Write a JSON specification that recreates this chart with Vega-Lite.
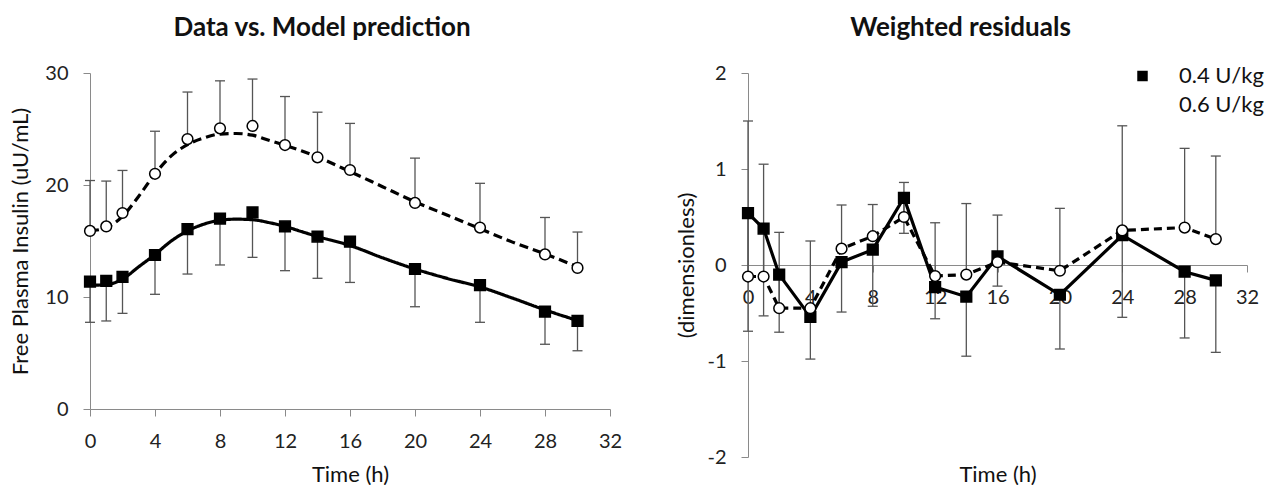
{
  "$schema": "https://vega.github.io/schema/vega-lite/v6.json",
  "background": "white",
  "padding": {"left": 9, "top": 15, "right": 2, "bottom": 0},
  "config": {
    "font": "Lato",
    "view": {"stroke": null},
    "axis": {
      "domainColor": "#8a8a8a",
      "tickColor": "#8a8a8a",
      "tickSize": 7,
      "grid": false,
      "labelFontSize": 20,
      "labelColor": "#222222",
      "labelFlush": false,
      "labelOverlap": false,
      "titleFontSize": 22,
      "titleFontWeight": "normal",
      "titleColor": "#111111",
      "labelPadding": 15
    },
    "title": {"fontSize": 26, "fontWeight": "bold", "color": "#111111", "frame": "group", "anchor": "middle", "baseline": "alphabetic"}
  },
  "datasets": {
    "obs": [
      {"t": 0, "dose": "0.4 U/kg", "y": 11.37, "e": 7.74},
      {"t": 1, "dose": "0.4 U/kg", "y": 11.43, "e": 7.86},
      {"t": 2, "dose": "0.4 U/kg", "y": 11.8, "e": 8.54},
      {"t": 4, "dose": "0.4 U/kg", "y": 13.75, "e": 10.24},
      {"t": 6, "dose": "0.4 U/kg", "y": 16.07, "e": 12.05},
      {"t": 8, "dose": "0.4 U/kg", "y": 17.0, "e": 12.86},
      {"t": 10, "dose": "0.4 U/kg", "y": 17.56, "e": 13.54},
      {"t": 12, "dose": "0.4 U/kg", "y": 16.3, "e": 12.35},
      {"t": 14, "dose": "0.4 U/kg", "y": 15.4, "e": 11.67},
      {"t": 16, "dose": "0.4 U/kg", "y": 14.94, "e": 11.3},
      {"t": 20, "dose": "0.4 U/kg", "y": 12.5, "e": 9.13},
      {"t": 24, "dose": "0.4 U/kg", "y": 11.07, "e": 7.74},
      {"t": 28, "dose": "0.4 U/kg", "y": 8.69, "e": 5.78},
      {"t": 30, "dose": "0.4 U/kg", "y": 7.86, "e": 5.2},
      {"t": 0, "dose": "0.6 U/kg", "y": 15.9, "e": 20.4},
      {"t": 1, "dose": "0.6 U/kg", "y": 16.3, "e": 20.35},
      {"t": 2, "dose": "0.6 U/kg", "y": 17.5, "e": 21.3},
      {"t": 4, "dose": "0.6 U/kg", "y": 21.0, "e": 24.8},
      {"t": 6, "dose": "0.6 U/kg", "y": 24.1, "e": 28.3},
      {"t": 8, "dose": "0.6 U/kg", "y": 25.06, "e": 29.3},
      {"t": 10, "dose": "0.6 U/kg", "y": 25.27, "e": 29.46},
      {"t": 12, "dose": "0.6 U/kg", "y": 23.57, "e": 27.9},
      {"t": 14, "dose": "0.6 U/kg", "y": 22.47, "e": 26.5},
      {"t": 16, "dose": "0.6 U/kg", "y": 21.34, "e": 25.5},
      {"t": 20, "dose": "0.6 U/kg", "y": 18.4, "e": 22.4},
      {"t": 24, "dose": "0.6 U/kg", "y": 16.2, "e": 20.15},
      {"t": 28, "dose": "0.6 U/kg", "y": 13.8, "e": 17.1},
      {"t": 30, "dose": "0.6 U/kg", "y": 12.6, "e": 15.8}
    ],
    "model": [
      {"t": 0, "dose": "0.4 U/kg", "p": 11.05},
      {"t": 1, "dose": "0.4 U/kg", "p": 11.1},
      {"t": 2, "dose": "0.4 U/kg", "p": 11.6},
      {"t": 3, "dose": "0.4 U/kg", "p": 12.7},
      {"t": 4, "dose": "0.4 U/kg", "p": 13.8},
      {"t": 5, "dose": "0.4 U/kg", "p": 15.0},
      {"t": 6, "dose": "0.4 U/kg", "p": 15.9},
      {"t": 7, "dose": "0.4 U/kg", "p": 16.5},
      {"t": 8, "dose": "0.4 U/kg", "p": 16.85},
      {"t": 9, "dose": "0.4 U/kg", "p": 16.95},
      {"t": 10, "dose": "0.4 U/kg", "p": 16.9},
      {"t": 11, "dose": "0.4 U/kg", "p": 16.65},
      {"t": 12, "dose": "0.4 U/kg", "p": 16.3},
      {"t": 13, "dose": "0.4 U/kg", "p": 15.85},
      {"t": 14, "dose": "0.4 U/kg", "p": 15.4},
      {"t": 16, "dose": "0.4 U/kg", "p": 14.6},
      {"t": 18, "dose": "0.4 U/kg", "p": 13.5},
      {"t": 20, "dose": "0.4 U/kg", "p": 12.5},
      {"t": 22, "dose": "0.4 U/kg", "p": 11.65},
      {"t": 24, "dose": "0.4 U/kg", "p": 10.9},
      {"t": 26, "dose": "0.4 U/kg", "p": 9.9},
      {"t": 28, "dose": "0.4 U/kg", "p": 8.85},
      {"t": 30, "dose": "0.4 U/kg", "p": 7.9},
      {"t": 0, "dose": "0.6 U/kg", "p": 15.9},
      {"t": 1, "dose": "0.6 U/kg", "p": 16.2},
      {"t": 2, "dose": "0.6 U/kg", "p": 17.2},
      {"t": 3, "dose": "0.6 U/kg", "p": 19.0},
      {"t": 4, "dose": "0.6 U/kg", "p": 21.0},
      {"t": 5, "dose": "0.6 U/kg", "p": 22.6},
      {"t": 6, "dose": "0.6 U/kg", "p": 23.6},
      {"t": 7, "dose": "0.6 U/kg", "p": 24.2},
      {"t": 8, "dose": "0.6 U/kg", "p": 24.55},
      {"t": 9, "dose": "0.6 U/kg", "p": 24.6},
      {"t": 10, "dose": "0.6 U/kg", "p": 24.45},
      {"t": 11, "dose": "0.6 U/kg", "p": 24.0},
      {"t": 12, "dose": "0.6 U/kg", "p": 23.55},
      {"t": 13, "dose": "0.6 U/kg", "p": 23.05},
      {"t": 14, "dose": "0.6 U/kg", "p": 22.5},
      {"t": 16, "dose": "0.6 U/kg", "p": 21.2},
      {"t": 18, "dose": "0.6 U/kg", "p": 19.85},
      {"t": 20, "dose": "0.6 U/kg", "p": 18.5},
      {"t": 22, "dose": "0.6 U/kg", "p": 17.3},
      {"t": 24, "dose": "0.6 U/kg", "p": 16.1},
      {"t": 26, "dose": "0.6 U/kg", "p": 14.9},
      {"t": 28, "dose": "0.6 U/kg", "p": 13.85},
      {"t": 30, "dose": "0.6 U/kg", "p": 12.7}
    ],
    "resid": [
      {"t": 0, "dose": "0.4 U/kg", "r": 0.54, "e": -0.69},
      {"t": 1, "dose": "0.4 U/kg", "r": 0.38, "e": -0.53},
      {"t": 2, "dose": "0.4 U/kg", "r": -0.1, "e": -0.7},
      {"t": 4, "dose": "0.4 U/kg", "r": -0.54, "e": -0.98},
      {"t": 6, "dose": "0.4 U/kg", "r": 0.03, "e": -0.49},
      {"t": 8, "dose": "0.4 U/kg", "r": 0.16, "e": -0.43},
      {"t": 10, "dose": "0.4 U/kg", "r": 0.7, "e": 0.33},
      {"t": 12, "dose": "0.4 U/kg", "r": -0.23, "e": -0.56},
      {"t": 14, "dose": "0.4 U/kg", "r": -0.33, "e": -0.95},
      {"t": 16, "dose": "0.4 U/kg", "r": 0.09, "e": -0.22},
      {"t": 20, "dose": "0.4 U/kg", "r": -0.31, "e": -0.875},
      {"t": 24, "dose": "0.4 U/kg", "r": 0.31, "e": -0.545},
      {"t": 28, "dose": "0.4 U/kg", "r": -0.07, "e": -0.76},
      {"t": 30, "dose": "0.4 U/kg", "r": -0.16, "e": -0.91},
      {"t": 0, "dose": "0.6 U/kg", "r": -0.12, "e": 1.5},
      {"t": 1, "dose": "0.6 U/kg", "r": -0.12, "e": 1.05},
      {"t": 2, "dose": "0.6 U/kg", "r": -0.45, "e": 0.34},
      {"t": 4, "dose": "0.6 U/kg", "r": -0.45, "e": 0.25},
      {"t": 6, "dose": "0.6 U/kg", "r": 0.17, "e": 0.625},
      {"t": 8, "dose": "0.6 U/kg", "r": 0.3, "e": 0.63},
      {"t": 10, "dose": "0.6 U/kg", "r": 0.5, "e": 0.86},
      {"t": 12, "dose": "0.6 U/kg", "r": -0.115, "e": 0.44},
      {"t": 14, "dose": "0.6 U/kg", "r": -0.1, "e": 0.64},
      {"t": 16, "dose": "0.6 U/kg", "r": 0.03, "e": 0.52},
      {"t": 20, "dose": "0.6 U/kg", "r": -0.06, "e": 0.59},
      {"t": 24, "dose": "0.6 U/kg", "r": 0.36, "e": 1.45},
      {"t": 28, "dose": "0.6 U/kg", "r": 0.39, "e": 1.215},
      {"t": 30, "dose": "0.6 U/kg", "r": 0.27, "e": 1.135}
    ]
  },
  "spacing": 53,
  "resolve": {"scale": {"shape": "independent", "fill": "independent", "strokeDash": "independent"}, "legend": {"shape": "independent", "fill": "independent", "strokeDash": "independent"}},
  "hconcat": [
    {
      "width": 520,
      "height": 336,
      "title": {"text": "Data vs. Model prediction", "offset": 22, "dx": -28},
      "layer": [
        {
          "data": {"name": "obs"},
          "mark": {"type": "rule", "color": "#555555", "strokeWidth": 1.3},
          "encoding": {
            "x": {"field": "t", "type": "quantitative", "scale": {"domain": [0, 32], "nice": false},
                  "axis": {"values": [0, 4, 8, 12, 16, 20, 24, 28, 32], "title": "Time (h)", "titleBaseline": "alphabetic", "titleY": 72}},
            "y": {"field": "y", "type": "quantitative", "scale": {"domain": [0, 30], "nice": false},
                  "axis": {"values": [0, 10, 20, 30], "title": "Free Plasma Insulin (uU/mL)", "titlePadding": 12}},
            "y2": {"field": "e"}
          }
        },
        {
          "data": {"name": "obs"},
          "mark": {"type": "tick", "orient": "horizontal", "size": 10, "thickness": 1.3, "color": "#555555", "opacity": 1},
          "encoding": {
            "x": {"field": "t", "type": "quantitative"},
            "y": {"field": "e", "type": "quantitative"}
          }
        },
        {
          "data": {"name": "model"},
          "mark": {"type": "line", "color": "black", "strokeWidth": 3.2, "interpolate": "monotone"},
          "encoding": {
            "x": {"field": "t", "type": "quantitative"},
            "y": {"field": "p", "type": "quantitative"},
            "strokeDash": {"field": "dose", "type": "nominal", "scale": {"domain": ["0.4 U/kg", "0.6 U/kg"], "range": [[1, 0], [9, 5]]}, "legend": null}
          }
        },
        {
          "data": {"name": "obs"},
          "mark": {"type": "point", "filled": true, "size": 115, "stroke": "black", "strokeWidth": 1.5, "opacity": 1},
          "encoding": {
            "x": {"field": "t", "type": "quantitative"},
            "y": {"field": "y", "type": "quantitative"},
            "shape": {"field": "dose", "type": "nominal", "scale": {"domain": ["0.4 U/kg", "0.6 U/kg"], "range": ["square", "circle"]}, "legend": null},
            "fill": {"field": "dose", "type": "nominal", "scale": {"domain": ["0.4 U/kg", "0.6 U/kg"], "range": ["black", "white"]}, "legend": null}
          }
        }
      ]
    },
    {
      "width": 499,
      "height": 384,
      "title": {"text": "Weighted residuals", "offset": 22, "dx": -37},
      "layer": [
        {
          "data": {"name": "resid"},
          "mark": {"type": "rule", "color": "#555555", "strokeWidth": 1.3},
          "encoding": {
            "x": {"field": "t", "type": "quantitative", "scale": {"domain": [0, 32], "nice": false},
                  "axis": {"values": [0, 4, 8, 12, 16, 20, 24, 28, 32], "title": "Time (h)", "offset": -192, "titleBaseline": "alphabetic", "titleY": 216}},
            "y": {"field": "r", "type": "quantitative", "scale": {"domain": [-2, 2], "nice": false},
                  "axis": {"values": [-2, -1, 0, 1, 2], "labelExpr": "toString(datum.value)", "title": "(dimensionless)", "titlePadding": 8}},
            "y2": {"field": "e"}
          }
        },
        {
          "data": {"name": "resid"},
          "mark": {"type": "tick", "orient": "horizontal", "size": 10, "thickness": 1.3, "color": "#555555", "opacity": 1},
          "encoding": {
            "x": {"field": "t", "type": "quantitative"},
            "y": {"field": "e", "type": "quantitative"}
          }
        },
        {
          "data": {"name": "resid"},
          "transform": [{"filter": "datum.dose === '0.4 U/kg'"}],
          "mark": {"type": "line", "color": "black", "strokeWidth": 3.2},
          "encoding": {
            "x": {"field": "t", "type": "quantitative"},
            "y": {"field": "r", "type": "quantitative"}
          }
        },
        {
          "data": {"name": "resid"},
          "transform": [{"filter": "datum.dose === '0.6 U/kg'"}],
          "mark": {"type": "line", "color": "black", "strokeWidth": 3.2, "strokeDash": [8, 5]},
          "encoding": {
            "x": {"field": "t", "type": "quantitative"},
            "y": {"field": "r", "type": "quantitative"}
          }
        },
        {
          "data": {"name": "resid"},
          "mark": {"type": "point", "filled": true, "size": 115, "stroke": "black", "strokeWidth": 1.5, "opacity": 1},
          "encoding": {
            "x": {"field": "t", "type": "quantitative"},
            "y": {"field": "r", "type": "quantitative"},
            "shape": {"field": "dose", "type": "nominal", "scale": {"domain": ["0.4 U/kg", "0.6 U/kg"], "range": ["square", "circle"]},
                      "legend": {
                        "orient": "none", "legendX": 383.5, "legendY": -8, "title": null, "padding": 0,
                        "labelFontSize": 22, "labelColor": "#111111", "labelOffset": 25.5, "rowPadding": 7, "labelLimit": 300,
                        "symbolSize": 110, "symbolStrokeWidth": 1.5, "symbolStrokeColor": "black", "symbolOpacity": 1
                      }},
            "fill": {"field": "dose", "type": "nominal", "scale": {"domain": ["0.4 U/kg", "0.6 U/kg"], "range": ["black", "white"]}}
          }
        }
      ]
    }
  ]
}
